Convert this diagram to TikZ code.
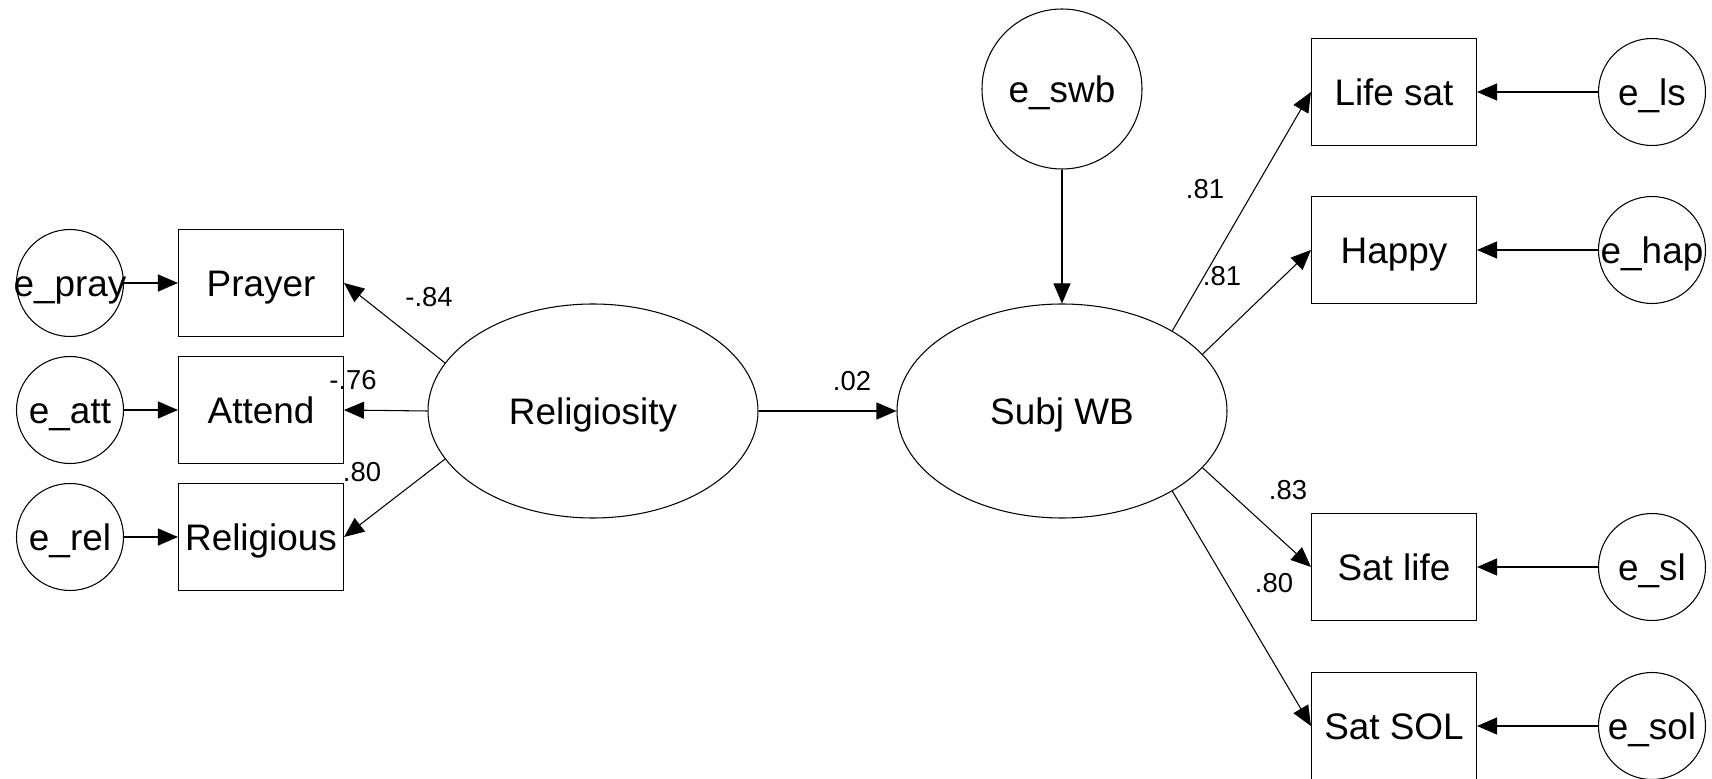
\documentclass[tikz,border=0pt]{standalone}
\usepackage{fontspec}
\setmainfont{Liberation Sans}
\usepackage{tikz}
\usetikzlibrary{shapes.geometric}
\usetikzlibrary{arrows.meta}
\tikzset{>={Triangle[length=2mm,width=1.7mm]}}

\begin{document}
\begin{tikzpicture}
                [x=0.1mm,y=-0.1mm,line width=0.3pt,
                 every node/.style={font=\fontsize{10.5}{12}\selectfont,inner sep=0pt,
                   text height=7.5pt,text depth=0pt},
                 item/.style={draw,rectangle,minimum width=16.5mm,minimum height=10.7mm},
                 err/.style={draw,circle,minimum size=10.7mm},
                 lat/.style={draw,ellipse,minimum width=33mm,minimum height=21.4mm},
                 coef/.style={font=\fontsize{7.8}{9}\selectfont,text height=5.6pt}]
                \useasboundingbox (0,0) rectangle (1712,779);

                % left side
                \node[err] (ePray) at (70,283) {\makebox[0pt]{e\_pray}};
                \node[err] (eAtt) at (70,410) {\makebox[0pt]{e\_att}};
                \node[err] (eRel) at (70,537) {\makebox[0pt]{e\_rel}};

                \node[item] (pray) at (261,283) {Prayer};
                \node[item] (att) at (261,410) {Attend};
                \node[item] (rel) at (261,537) {Religious};

                \node[lat] (relig) at (593,411) {Religiosity};

                % right side
                \node[lat] (swb) at (1062,411) {Subj WB};
                \node[draw,circle,minimum size=16mm] (eSwb) at (1062,89) {e\_swb};

                \node[item] (ls) at (1394,92) {Life sat};
                \node[item] (hap) at (1394,250) {Happy};
                \node[item] (sl) at (1394,567) {Sat life};
                \node[item] (sol) at (1394,726) {Sat SOL};

                \node[err] (eLs) at (1652,92) {\makebox[0pt]{e\_ls}};
                \node[err] (eHap) at (1652,250) {\makebox[0pt]{e\_hap}};
                \node[err] (eSl) at (1652,567) {\makebox[0pt]{e\_sl}};
                \node[err] (eSol) at (1652,726) {\makebox[0pt]{e\_sol}};

                % coefficients
                \node[coef] (cPray) at (429,297) {-.84};
                \node[coef] (cAtt) at (353,380) {-.76};
                \node[coef] (cRel) at (362,472) {.80};
                \node[coef] (cSwb) at (852,381) {.02};
                \node[coef] (cLs) at (1205,189) {.81};
                \node[coef] (cHap) at (1222,276) {.81};
                \node[coef] (cSl) at (1288,490) {.83};
                \node[coef] (cSol) at (1274,583) {.80};

                \draw[->] (ePray) -- (pray);
                \draw[->] (eAtt) -- (att);
                \draw[->] (eRel) -- (rel);
                \draw[->] (relig.162) -- (pray.east);
                \draw[->] (relig.west) -- (att.east);
                \draw[->] (relig.198) -- (rel.east);
                \draw[->] (relig) -- (swb);
                \draw[->] (eSwb) -- (swb);
                \draw[->] (swb.36) -- (ls.west);
                \draw[->] (swb.22) -- (hap.west);
                \draw[->] (swb.-22) -- (sl.west);
                \draw[->] (swb.-36) -- (sol.west);
                \draw[->] (eLs) -- (ls);
                \draw[->] (eHap) -- (hap);
                \draw[->] (eSl) -- (sl);
                \draw[->] (eSol) -- (sol);
            \end{tikzpicture}
\end{document}
